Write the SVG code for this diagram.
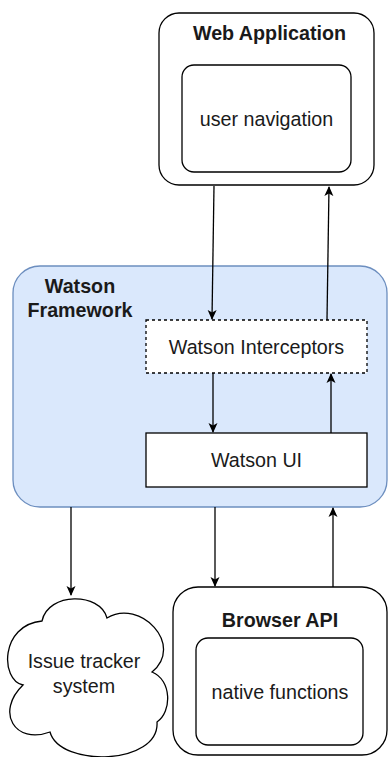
<svg xmlns="http://www.w3.org/2000/svg" width="388" height="757" viewBox="0 0 388 757">
<style>
.box{fill:#fff;stroke:#000;stroke-width:1.3}
.t{font-family:"Liberation Sans",Arial,sans-serif;font-size:19.7px;fill:#1a1a1a;text-anchor:middle}
.b{font-weight:bold}
.e{fill:none;stroke:#000;stroke-width:1.3}
</style>
<defs>
<marker id="ah" viewBox="0 0 10 10" refX="9" refY="5" markerWidth="10" markerHeight="10" markerUnits="userSpaceOnUse" orient="auto">
<path d="M0,0.5 L10,5 L0,9.5 L2.5,5 Z" fill="#000"/>
</marker>
</defs>
<rect width="388" height="757" fill="#fff"/>
<g id="watson-framework">
<rect x="13" y="266" width="374" height="241" rx="27" fill="#dae8fc" stroke="#6c8ebf" stroke-width="1.3"/>
<text class="t b" x="80" y="293">Watson</text>
<text class="t b" x="80" y="317">Framework</text>
</g>
<g id="web-application">
<rect class="box" x="159" y="13" width="215" height="172" rx="20"/>
<text class="t b" x="269.5" y="40">Web Application</text>
</g>
<g id="user-navigation">
<rect class="box" x="182" y="65" width="169" height="107" rx="12"/>
<text class="t" x="266.5" y="126">user navigation</text>
</g>
<g id="watson-interceptors">
<rect x="146" y="320" width="221" height="53" fill="#fff" stroke="#000" stroke-width="1.3" stroke-dasharray="3 3"/>
<text class="t" x="256.5" y="354">Watson Interceptors</text>
</g>
<g id="watson-ui">
<rect class="box" x="146" y="433" width="221" height="54"/>
<text class="t" x="256.5" y="467">Watson UI</text>
</g>
<g id="browser-api">
<rect class="box" x="173" y="587" width="214" height="168" rx="25"/>
<text class="t b" x="280" y="627">Browser API</text>
</g>
<g id="native-functions">
<rect class="box" x="196" y="638" width="167" height="107" rx="12"/>
<text class="t" x="280" y="699">native functions</text>
</g>
<g id="issue-tracker">
<path class="box" d="M42,621 C48,592 100,592 107,618 C140,598 185,645 152,672 C172,680 172,712 157,722 C160,765 60,768 50,732 C15,745 -5,712 23,685 C0,680 0,625 42,621 Z"/>
<text class="t" x="84" y="668">Issue tracker</text>
<text class="t" x="84" y="693">system</text>
</g>
<g id="connectors">
<path class="e" d="M214,186 L212,319" marker-end="url(#ah)"/>
<path class="e" d="M327,320 L329,187" marker-end="url(#ah)"/>
<path class="e" d="M213,373 L213,432" marker-end="url(#ah)"/>
<path class="e" d="M331,433 L331,374" marker-end="url(#ah)"/>
<path class="e" d="M71,507 L71,595" marker-end="url(#ah)"/>
<path class="e" d="M215,507 L215,586" marker-end="url(#ah)"/>
<path class="e" d="M333,587 L333,508" marker-end="url(#ah)"/>
</g>
</svg>
